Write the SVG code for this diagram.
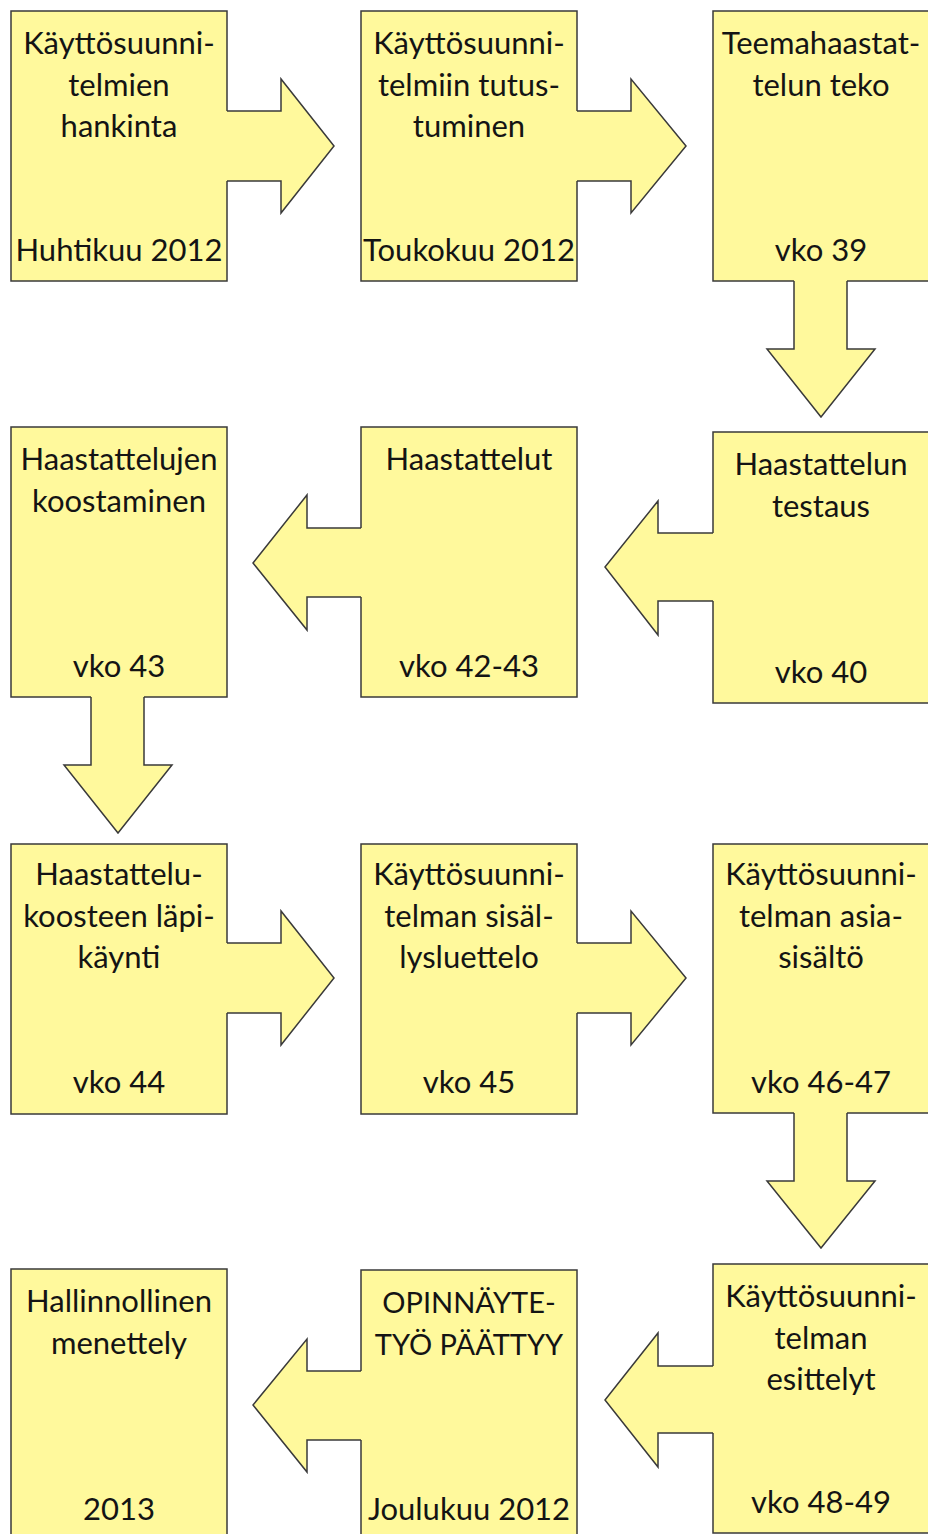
<svg xmlns="http://www.w3.org/2000/svg" width="928" height="1534" viewBox="0 0 928 1534">
<style>
.box{fill:#FFF99C;stroke:#3a3a3a;stroke-width:1.5}
.af{fill:#FFF99C;stroke:none}
.as{fill:none;stroke:#3a3a3a;stroke-width:1.5;stroke-linejoin:miter}
.t{font-family:Lato,"Liberation Sans",Arial,sans-serif;font-size:31px;fill:#141414;text-anchor:middle}
.c{font-size:29px}
</style>
<rect width="928" height="1534" fill="#ffffff"/>
<g id="nodes">
<g id="n1"><rect class="box" x="11" y="11" width="216" height="270"/>
<text class="t" x="119" y="54">Käyttösuunni-</text><text class="t" x="119" y="95.5">telmien</text><text class="t" x="119" y="137">hankinta</text><text class="t" x="119" y="261">Huhtikuu 2012</text></g>
<g id="n2"><rect class="box" x="361" y="11" width="216" height="270"/>
<text class="t" x="469" y="54">Käyttösuunni-</text><text class="t" x="469" y="95.5">telmiin tutus-</text><text class="t" x="469" y="137">tuminen</text><text class="t" x="469" y="261">Toukokuu 2012</text></g>
<g id="n3"><rect class="box" x="713" y="11" width="216" height="270"/>
<text class="t" x="821" y="54">Teemahaastat-</text><text class="t" x="821" y="95.5">telun teko</text><text class="t" x="821" y="261">vko 39</text></g>
<g id="n4"><rect class="box" x="11" y="427" width="216" height="270"/>
<text class="t" x="119" y="470">Haastattelujen</text><text class="t" x="119" y="511.5">koostaminen</text><text class="t" x="119" y="677">vko 43</text></g>
<g id="n5"><rect class="box" x="361" y="427" width="216" height="270"/>
<text class="t" x="469" y="470">Haastattelut</text><text class="t" x="469" y="677">vko 42-43</text></g>
<g id="n6"><rect class="box" x="713" y="432" width="216" height="271"/>
<text class="t" x="821" y="475">Haastattelun</text><text class="t" x="821" y="516.5">testaus</text><text class="t" x="821" y="683">vko 40</text></g>
<g id="n7"><rect class="box" x="11" y="844" width="216" height="270"/>
<text class="t" x="119" y="885">Haastattelu-</text><text class="t" x="119" y="926.5">koosteen läpi-</text><text class="t" x="119" y="968">käynti</text><text class="t" x="119" y="1093">vko 44</text></g>
<g id="n8"><rect class="box" x="361" y="844" width="216" height="270"/>
<text class="t" x="469" y="885">Käyttösuunni-</text><text class="t" x="469" y="926.5">telman sisäl-</text><text class="t" x="469" y="968">lysluettelo</text><text class="t" x="469" y="1093">vko 45</text></g>
<g id="n9"><rect class="box" x="713" y="844" width="216" height="269"/>
<text class="t" x="821" y="885">Käyttösuunni-</text><text class="t" x="821" y="926.5">telman asia-</text><text class="t" x="821" y="968">sisältö</text><text class="t" x="821" y="1093">vko 46-47</text></g>
<g id="n10"><rect class="box" x="713" y="1264" width="216" height="269"/>
<text class="t" x="821" y="1307">Käyttösuunni-</text><text class="t" x="821" y="1348.5">telman</text><text class="t" x="821" y="1390">esittelyt</text><text class="t" x="821" y="1513">vko 48-49</text></g>
<g id="n11"><rect class="box" x="361" y="1270" width="216" height="270"/>
<text class="t c" x="469" y="1313">OPINNÄYTE-</text><text class="t c" x="469" y="1354.5">TYÖ PÄÄTTYY</text><text class="t" x="469" y="1520">Joulukuu 2012</text></g>
<g id="n12"><rect class="box" x="11" y="1269" width="216" height="271"/>
<text class="t" x="119" y="1312">Hallinnollinen</text><text class="t" x="119" y="1353.5">menettely</text><text class="t" x="119" y="1520">2013</text></g>
</g>
<g id="connectors">
<g id="c1"><path class="af" d="M224,111 H281 V79 L334,146 L281,213 V181 H224 Z"/><path class="as" d="M227,111 H281 V79 L334,146 L281,213 V181 H227"/></g>
<g id="c2"><path class="af" d="M574,111 H631 V79 L686,146 L631,213 V181 H574 Z"/><path class="as" d="M577,111 H631 V79 L686,146 L631,213 V181 H577"/></g>
<g id="c3"><path class="af" d="M847,278 V349 H875 L821,417 L767,349 H794 V278 Z"/><path class="as" d="M847,281 V349 H875 L821,417 L767,349 H794 V281"/></g>
<g id="c4"><path class="af" d="M716,533 H658 V501 L605,567 L658,635 V601 H716 Z"/><path class="as" d="M713,533 H658 V501 L605,567 L658,635 V601 H713"/></g>
<g id="c5"><path class="af" d="M364,528 H307 V495 L253,563 L307,630 V597 H364 Z"/><path class="as" d="M361,528 H307 V495 L253,563 L307,630 V597 H361"/></g>
<g id="c6"><path class="af" d="M144,694 V765 H172 L118,833 L64,765 H91 V694 Z"/><path class="as" d="M144,697 V765 H172 L118,833 L64,765 H91 V697"/></g>
<g id="c7"><path class="af" d="M224,943 H281 V911 L334,978 L281,1045 V1013 H224 Z"/><path class="as" d="M227,943 H281 V911 L334,978 L281,1045 V1013 H227"/></g>
<g id="c8"><path class="af" d="M574,943 H631 V911 L686,978 L631,1045 V1013 H574 Z"/><path class="as" d="M577,943 H631 V911 L686,978 L631,1045 V1013 H577"/></g>
<g id="c9"><path class="af" d="M847,1110 V1181 H875 L821,1248 L767,1181 H794 V1110 Z"/><path class="as" d="M847,1113 V1181 H875 L821,1248 L767,1181 H794 V1113"/></g>
<g id="c10"><path class="af" d="M716,1366 H658 V1333 L605,1400 L658,1467 V1433 H716 Z"/><path class="as" d="M713,1366 H658 V1333 L605,1400 L658,1467 V1433 H713"/></g>
<g id="c11"><path class="af" d="M364,1371 H307 V1339 L253,1405 L307,1472 V1440 H364 Z"/><path class="as" d="M361,1371 H307 V1339 L253,1405 L307,1472 V1440 H361"/></g>
</g>
</svg>
